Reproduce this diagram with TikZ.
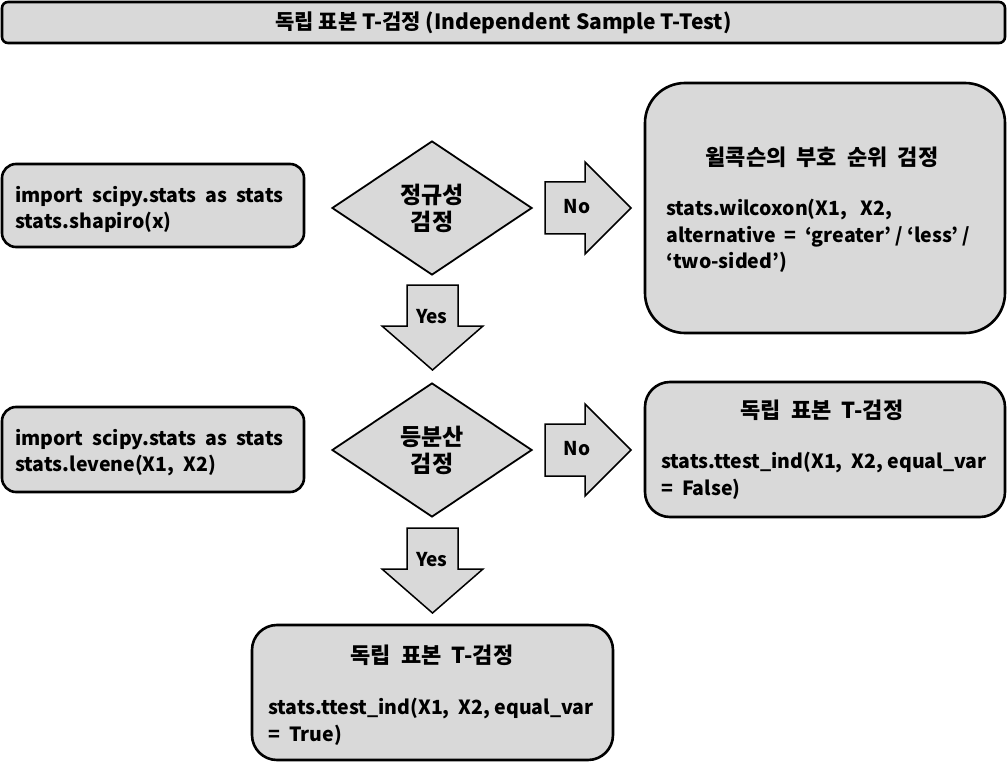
\documentclass[tikz,border=0pt]{standalone}
\usepackage{fontspec}
\setmainfont{Noto Sans CJK KR}
\usetikzlibrary{shapes.geometric}
\definecolor{boxgray}{HTML}{D9D9D9}
\tikzset{
  box/.style={draw=black, line width=2.6pt, fill=boxgray, rounded corners=#1, inner sep=0pt},
  box/.default=14pt,
  dia/.style={draw=black, line width=1.8pt, fill=boxgray, diamond, minimum width=200pt, minimum height=134pt, inner sep=0pt, align=center, font=\fontsize{23}{27}\selectfont\bfseries},
  barrow/.style={draw=black, line width=1.5pt, fill=boxgray, line join=miter},
  lbl/.style={font=\fontsize{19}{24}\selectfont\bfseries},
  code/.style={anchor=north west, align=left, inner sep=0pt, font=\fontsize{19.5}{26.5}\selectfont\bfseries},
  ttl/.style={inner sep=0pt, font=\fontsize{22}{26}\selectfont\bfseries}
}
% right arrow: start x, center y
\newcommand\rarrow[2]{\draw[barrow] (#1,#2-26)--(#1+40,#2-26)--(#1+40,#2-46)--(#1+86,#2)--(#1+40,#2+46)--(#1+40,#2+26)--(#1,#2+26)--cycle;}
% down arrow: center x, start y
\newcommand\darrow[2]{\draw[barrow] (#1-25.5,#2)--(#1+25.5,#2)--(#1+25.5,#2+41)--(#1+50.5,#2+41)--(#1,#2+85)--(#1-50.5,#2+41)--(#1-25.5,#2+41)--cycle;}
\begin{document}
\begin{tikzpicture}[x=1pt,y=-1pt]
\useasboundingbox (0,0) rectangle (1007,762);
% title
\node[box=6pt, minimum width=1003pt, minimum height=41pt] (title) at (503.5,22.5) {};
\node[ttl, font=\fontsize{21}{24}\selectfont\bfseries] (titletext) at (503.5,22.5) {독립 표본 T-검정 (Independent Sample T-Test)};
% row 1
\node[box, minimum width=302pt, minimum height=83pt] (b1) at (153,205.5) {};
\node[code] (b1t) at (15,186) {import\ \ scipy.stats\ \ as\ \ stats\\stats.shapiro(x)};
\node[dia] (d1) at (432,208) {정규성\\검정};
\rarrow{545}{208}
\node[lbl] (no1t) at (577,207) {No};
\node[box=40pt, minimum width=360pt, minimum height=250pt] (w) at (825,208) {};
\node[ttl] (wt) at (822,157) {윌콕슨의\ \ 부호\ \ 순위\ \ 검정};
\node[code] (wc) at (666,199) {stats.wilcoxon(X1,\ \ \ X2,\\alternative\ \ =\ \ ‘greater’\ /\ ‘less’\ /\\‘two-sided’)};
\darrow{432.5}{285}
\node[lbl] (yes1t) at (432,317) {Yes};
% row 2
\node[box, minimum width=302pt, minimum height=85pt] (b2) at (153,449.5) {};
\node[code] (b2t) at (15,429) {import\ \ scipy.stats\ \ as\ \ stats\\stats.levene(X1,\ \ X2)};
\node[dia] (d2) at (432,450) {등분산\\검정};
\rarrow{545}{450}
\node[lbl] (no2t) at (577,449) {No};
\node[box=25pt, minimum width=360pt, minimum height=135pt] (f) at (825,449.5) {};
\node[ttl] (ft) at (822,410) {독립\ \ 표본\ \ T-검정};
\node[code] (fc) at (661,452) {stats.ttest\_ind(X1,\ \ X2,\ equal\_var\\=\ \ False)};
\darrow{432.5}{528}
\node[lbl] (yes2t) at (432,560) {Yes};
% bottom
\node[box=25pt, minimum width=361pt, minimum height=135pt] (t) at (432.5,692.5) {};
\node[ttl] (tt) at (432,655) {독립\ \ 표본\ \ T-검정};
\node[code] (tc) at (268,698) {stats.ttest\_ind(X1,\ \ X2,\ equal\_var\\=\ \ True)};
\end{tikzpicture}
\end{document}
